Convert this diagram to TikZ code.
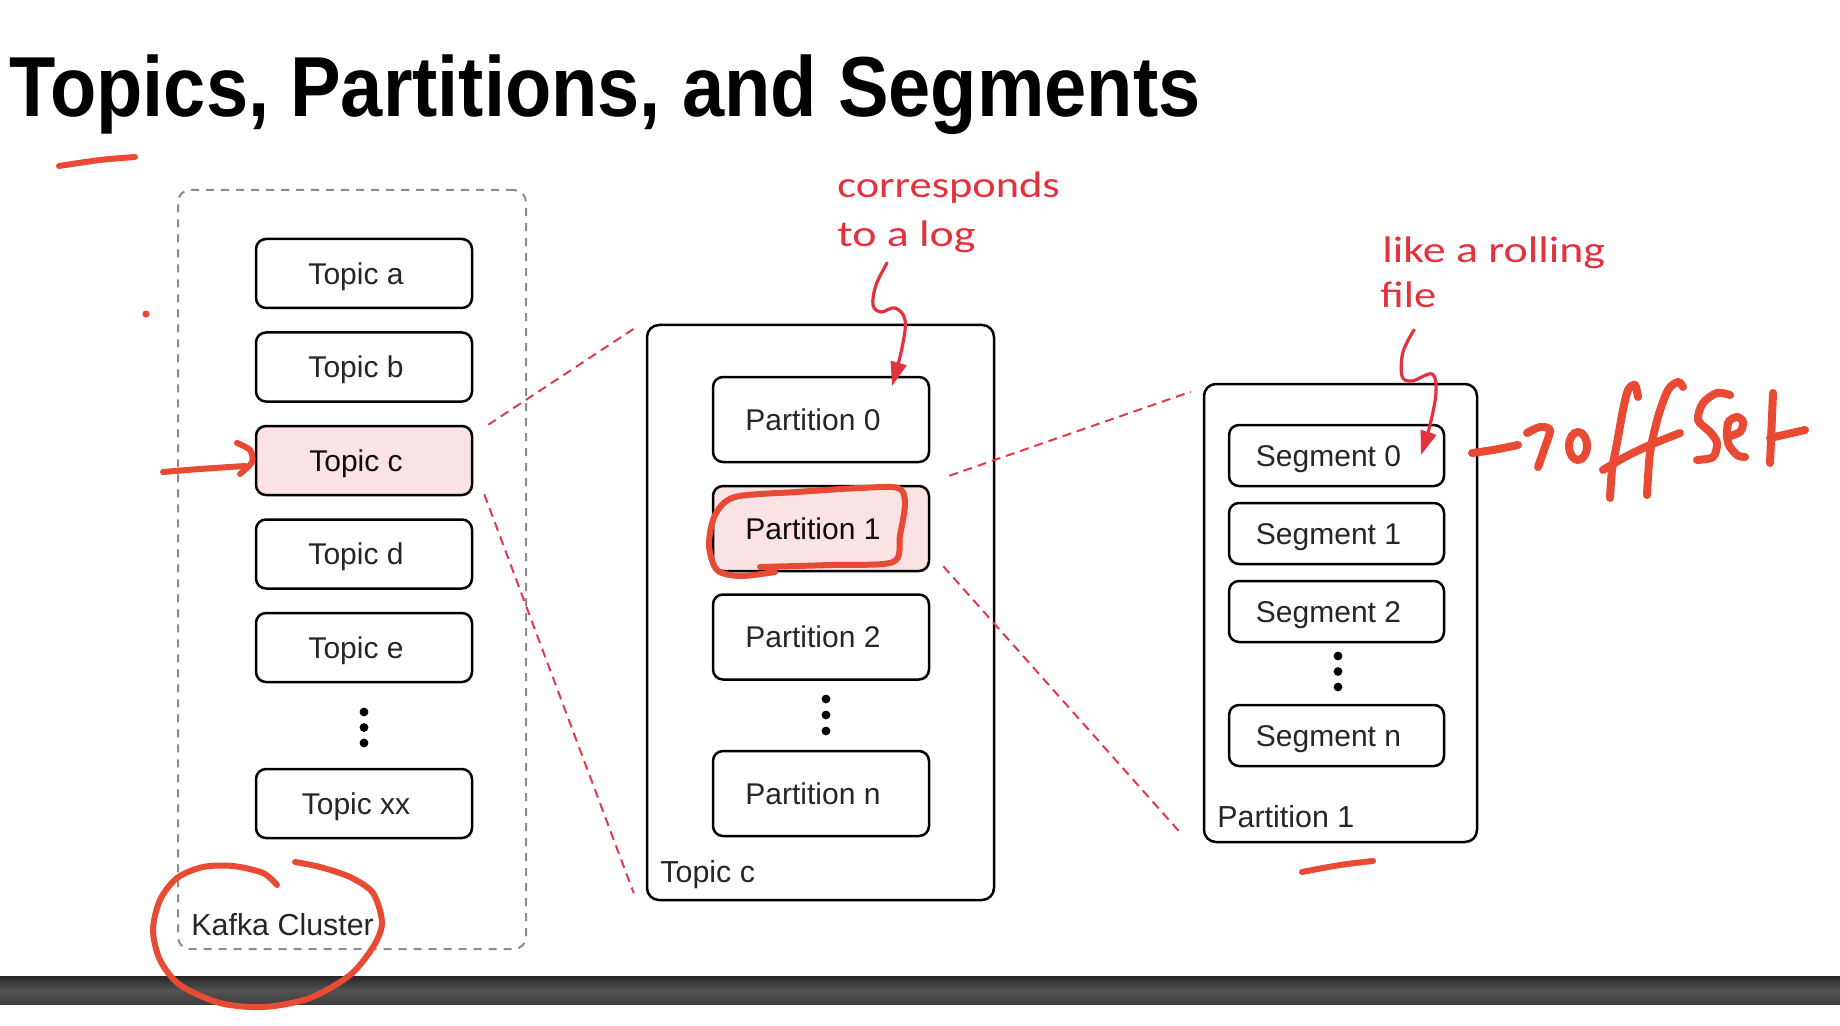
\documentclass[tikz,border=0pt]{standalone}
\usepackage{fontspec}
\usepackage{graphicx}
\setmainfont{Liberation Sans}
\newfontfamily\hand{Carlito}
\usetikzlibrary{calc,arrows.meta}
\definecolor{pen}{HTML}{E84A33}
\definecolor{ink}{HTML}{E3323D}
\definecolor{dashred}{HTML}{E43A48}
\definecolor{pinkfill}{HTML}{FBE2E5}
\definecolor{graydash}{HTML}{8C8C8C}
\begin{document}
\begin{tikzpicture}[x=0.5pt,y=-0.5pt,
  box/.style={draw=black, line width=1.25pt, rounded corners=5pt, fill=white,
    minimum width=108pt, text height=10.7pt, text depth=0pt, inner sep=0pt,
    font=\fontsize{15}{18}\selectfont, text=black!85, execute at end node={\hspace*{8pt}}},
  topicbox/.style={box, minimum height=34.5pt},
  partbox/.style={box, minimum height=42.5pt},
  segbox/.style={box, minimum width=107.5pt, minimum height=30.5pt},
  hl/.style={fill=pinkfill, text=black!95},
  container/.style={draw=black, line width=1.25pt, rounded corners=6pt, inner sep=0pt},
  clabel/.style={anchor=base west, inner sep=0pt, font=\fontsize{15.2}{18}\selectfont, text=black!85},
  conn/.style={draw=dashred, line width=1pt, dash pattern=on 4.5pt off 3pt},
  penstroke/.style={draw=pen, line width=3pt, line cap=round, line join=round},
  inkarrow/.style={draw=ink, line width=1.6pt, line cap=round, -{Triangle[length=12pt,width=8pt]}},
  handtext/.style={anchor=base west, inner sep=0pt, text=ink, font=\hand\fontsize{18.5}{22}\selectfont},
  dotv/.style={fill=black}
]
\useasboundingbox (0,0) rectangle (1840,1026);
\fill[white] (0,0) rectangle (1840,1026);

% bottom bar
\shade[top color=black!85, bottom color=black!75, middle color=black!68] (0,976) rectangle (1840,1004);

% title
\node[anchor=base west, inner sep=0pt, font=\bfseries\fontsize{42.6}{50}\selectfont] (title) at (9,117)
  {\scalebox{0.89}[1]{Topics, Partitions, and Segments}};

% containers
\node[container, draw=graydash, line width=1pt, dash pattern=on 4pt off 3.5pt,
  minimum width=174pt, minimum height=379.5pt] (kafka) at (352,569.5) {};
\node[container, minimum width=173.5pt, minimum height=287.5pt] (topiccont) at (820.5,612.5) {};
\node[container, minimum width=136.5pt, minimum height=229pt] (partcont) at (1340.5,613) {};

\node[clabel] (kafkalbl) at (191,935) {Kafka Cluster};
\node[clabel] (topiclbl) at (660,882) {Topic c};
\node[clabel] (partlbl) at (1217,827) {Partition 1};

% topics
\node[topicbox] (ta) at (364,273.5) {Topic a};
\node[topicbox] (tb) at (364,367) {Topic b};
\node[topicbox, hl] (tc) at (364,460.5) {Topic c};
\node[topicbox] (td) at (364,554) {Topic d};
\node[topicbox] (te) at (364,647.5) {Topic e};
\node[topicbox] (txx) at (364,803.5) {Topic xx};
\foreach \y in {712,727.5,743} \fill[dotv] (364,\y) circle (2.2pt);

% partitions
\node[partbox] (p0) at (821,419.5) {Partition 0};
\node[partbox, hl] (p1) at (821,528.5) {Partition 1};
\node[partbox] (p2) at (821,637) {Partition 2};
\node[partbox] (pn) at (821,793.5) {Partition n};
\foreach \y in {699,715,731} \fill[dotv] (826,\y) circle (2.2pt);

% segments
\node[segbox] (s0) at (1336.5,455.5) {Segment 0};
\node[segbox] (s1) at (1336.5,533.5) {Segment 1};
\node[segbox] (s2) at (1336.5,611.5) {Segment 2};
\node[segbox] (sn) at (1336.5,735.5) {Segment n};
\foreach \y in {656,671.5,687} \fill[dotv] (1338,\y) circle (2.2pt);

% zoom connectors
\draw[conn] ($(tc.north east)+(15,0)$) -- ($(topiccont.north west)+(-12,5)$);
\draw[conn] ($(tc.south east)+(11,-2)$) -- ($(topiccont.south west)+(-12,-8)$);
\draw[conn] ($(p1.north east)+(19,-9)$) -- ($(partcont.north west)+(-12,9)$);
\draw[conn] ($(p1.south east)+(13,-6)$) -- ($(partcont.south west)+(-22,-10)$);

% handwritten notes
\node[handtext] (note1a) at (837,198) {\scalebox{1.2}[1]{corresponds}};
\node[handtext] (note1b) at (837,247) {\scalebox{1.24}[1]{to a log}};
\node[handtext] (note2a) at (1382,263) {\scalebox{1.24}[1]{like a rolling}};
\node[handtext] (note2b) at (1380,308) {\scalebox{1.2}[1]{file}};

\draw[inkarrow] plot[smooth, tension=0.6] coordinates {(887,263) (876,285) (873,305) (881,312) (895,308) (905,320) (902,348) (892,386)};
\draw[inkarrow] plot[smooth, tension=0.6] coordinates {(1414,330) (1403,352) (1402,376) (1412,381) (1432,374) (1436,392) (1430,425) (1421,455)};

% pen marks
\draw[penstroke] plot[smooth] coordinates {(59,166) (100,160) (135,157)};
\fill[pen] (146,314) circle (1.8pt);
\draw[penstroke] plot[smooth] coordinates {(163,472) (200,469) (245,466)};
\draw[penstroke] plot[smooth] coordinates {(237,443) (250,450) (252,462) (240,474)};
\draw[penstroke] plot[smooth] coordinates {(760,567) (830,565) (893,562) (900,535) (905,503) (898,488) (860,488) (797,492) (735,497) (715,515) (709,545) (717,570) (740,576) (775,572)};
\draw[penstroke] plot[smooth] coordinates {(277,885) (263,873) (233,866) (203,867) (177,878) (160,900) (153,930) (160,960) (180,985) (220,1003) (264,1007) (310,998) (350,975) (373,947) (382,923) (373,893) (350,877) (320,867) (295,862)};
\draw[penstroke] plot[smooth] coordinates {(1302,872) (1340,865) (1373,861)};

% ->offset
\begin{scope}[penstroke, line width=4pt]
\draw plot[smooth] coordinates {(1472,453) (1493,450) (1518,445)};
\draw plot[smooth] coordinates {(1527,433) (1540,427) (1550,430) (1545,447) (1538,467)};
\draw (1578,446) ellipse [x radius=9, y radius=14];
\draw plot[smooth] coordinates {(1638,397) (1635,385) (1628,390) (1623,410) (1617,443) (1612,470) (1610,498)};
\draw plot[smooth] coordinates {(1683,387) (1678,382) (1668,390) (1658,417) (1650,453) (1647,495)};
\draw plot[smooth] coordinates {(1603,470) (1625,457) (1650,445) (1680,433)};
\draw plot[smooth] coordinates {(1730,395) (1717,393) (1703,403) (1698,420) (1710,432) (1717,443) (1713,457) (1697,460)};
\draw plot[smooth] coordinates {(1727,437) (1740,432) (1743,422) (1737,417) (1728,423) (1728,443) (1737,455) (1745,457)};
\draw (1773,393) -- (1770,463);
\draw (1770,438) -- (1805,430);
\end{scope}
\end{tikzpicture}
\end{document}
